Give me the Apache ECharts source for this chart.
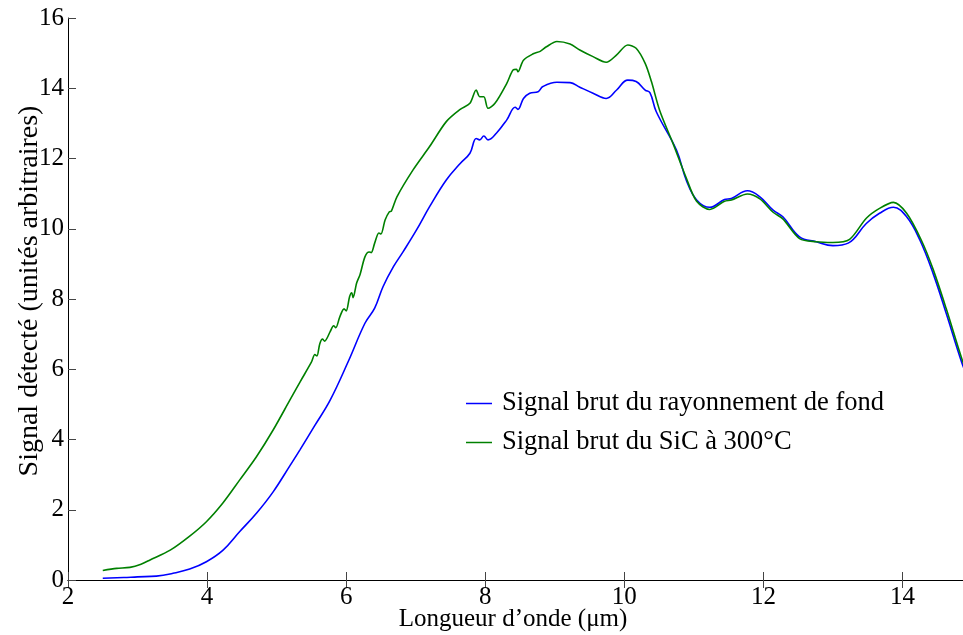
<!DOCTYPE html>
<html>
<head>
<meta charset="utf-8">
<script src="https://cdn.jsdelivr.net/npm/echarts@6/dist/echarts.min.js"></script>
<style>
  html, body { margin: 0; padding: 0; background: #fff; }
  #chart { width: 963px; height: 635px; }
</style>
</head>
<body>
<div id="chart"></div>
<script>
// Wavelength (µm) and raw detector signal (arbitrary units)
const wlBackground = [2.50, 2.80, 3.00, 3.27, 3.51, 3.75, 3.99, 4.23, 4.47, 4.71, 4.95, 5.19, 5.34, 5.55, 5.77, 6.03, 6.27, 6.41, 6.53, 6.68, 6.82, 7.01, 7.20, 7.44, 7.64, 7.78, 7.87, 7.92, 7.98, 8.04, 8.16, 8.31, 8.43, 8.47, 8.55, 8.64, 8.76, 8.83, 9.03, 9.22, 9.36, 9.55, 9.74, 9.89, 10.05, 10.17, 10.30, 10.37, 10.46, 10.75, 10.89, 11.04, 11.23, 11.44, 11.54, 11.77, 11.95, 12.14, 12.28, 12.52, 12.76, 13.00, 13.22, 13.48, 13.67, 13.87, 14.06, 14.25, 14.44, 14.63, 14.85, 14.95];
const sigBackground = [0.05, 0.07, 0.09, 0.11, 0.19, 0.31, 0.52, 0.85, 1.38, 1.90, 2.51, 3.25, 3.72, 4.40, 5.12, 6.22, 7.31, 7.74, 8.35, 8.92, 9.35, 9.96, 10.63, 11.39, 11.86, 12.15, 12.57, 12.53, 12.64, 12.53, 12.72, 13.10, 13.46, 13.40, 13.71, 13.86, 13.90, 14.05, 14.17, 14.16, 14.03, 13.86, 13.71, 13.95, 14.23, 14.19, 13.95, 13.87, 13.33, 12.24, 11.39, 10.82, 10.61, 10.83, 10.86, 11.08, 10.91, 10.53, 10.34, 9.77, 9.63, 9.52, 9.59, 10.15, 10.44, 10.61, 10.34, 9.68, 8.73, 7.59, 6.21, 5.70];

const wlSiC = [2.50, 2.70, 2.89, 3.05, 3.18, 3.47, 3.75, 3.99, 4.23, 4.47, 4.71, 4.95, 5.19, 5.34, 5.50, 5.55, 5.58, 5.62, 5.66, 5.69, 5.77, 5.82, 5.85, 5.91, 5.97, 6.00, 6.05, 6.08, 6.10, 6.15, 6.20, 6.27, 6.33, 6.36, 6.41, 6.47, 6.50, 6.56, 6.62, 6.65, 6.73, 6.96, 7.20, 7.44, 7.64, 7.78, 7.87, 7.92, 7.98, 8.04, 8.14, 8.31, 8.40, 8.45, 8.47, 8.55, 8.69, 8.79, 8.88, 9.03, 9.22, 9.36, 9.55, 9.74, 9.89, 10.05, 10.17, 10.30, 10.39, 10.51, 10.70, 10.89, 11.04, 11.23, 11.44, 11.54, 11.77, 11.95, 12.14, 12.28, 12.52, 12.76, 13.00, 13.24, 13.48, 13.67, 13.87, 14.06, 14.27, 14.44, 14.63, 14.85, 14.95];
const sigSiC = [0.27, 0.33, 0.36, 0.45, 0.57, 0.85, 1.25, 1.66, 2.20, 2.85, 3.51, 4.27, 5.12, 5.65, 6.20, 6.42, 6.38, 6.72, 6.86, 6.80, 7.07, 7.24, 7.18, 7.50, 7.72, 7.66, 8.07, 8.18, 8.04, 8.45, 8.70, 9.20, 9.34, 9.32, 9.59, 9.88, 9.85, 10.25, 10.48, 10.50, 10.91, 11.67, 12.34, 13.05, 13.40, 13.57, 13.95, 13.76, 13.76, 13.43, 13.57, 14.14, 14.52, 14.54, 14.47, 14.80, 14.98, 15.05, 15.18, 15.33, 15.26, 15.09, 14.90, 14.74, 14.95, 15.23, 15.14, 14.71, 14.19, 13.36, 12.43, 11.45, 10.78, 10.55, 10.78, 10.82, 10.99, 10.85, 10.47, 10.28, 9.72, 9.63, 9.61, 9.70, 10.30, 10.58, 10.75, 10.44, 9.68, 8.85, 7.72, 6.32, 5.80];

const xTicks = [2, 4, 6, 8, 10, 12, 14];
const yTicks = [0, 2, 4, 6, 8, 10, 12, 14, 16];

const nameBackground = 'Signal brut du rayonnement de fond';
const nameSiC = 'Signal brut du SiC à 300°C';

const pairs = (xs, ys) => xs.map((x, i) => [x, ys[i]]);

const serif = "'Liberation Serif', 'Times New Roman', serif";
const tickColor = '#444';

const chart = echarts.init(document.getElementById('chart'));
chart.setOption({
  animation: false,
  backgroundColor: '#fff',
  grid: { left: 68, top: 18, width: 904, height: 562, outerBoundsMode: 'none', containLabel: false },
  legend: {
    orient: 'vertical',
    left: 466,
    top: 390,
    padding: 0,
    itemWidth: 26,
    itemHeight: 1.5,
    itemGap: 12,
    icon: 'rect',
    data: [nameBackground, nameSiC],
    textStyle: { fontFamily: serif, fontSize: 26.5, color: '#000', padding: [0, 0, 0, 5] }
  },
  xAxis: [{
    type: 'value',
    min: 2, max: 15, interval: 2,
    name: 'Longueur d’onde (μm)',
    nameLocation: 'middle',
    nameGap: 27,
    nameMoveOverlap: false,
    nameTextStyle: { fontFamily: serif, fontSize: 25, color: '#000', padding: [0, 14, 0, 0] },
    axisLine: { show: true, lineStyle: { color: '#000', width: 1 } },
    axisTick: { show: true, inside: true, length: 8, lineStyle: { color: tickColor } },
    axisLabel: {
      fontFamily: serif, fontSize: 25, color: '#000', margin: 5,
      formatter: v => (xTicks.includes(v) ? String(v) : '')
    },
    splitLine: { show: false }
  }, {
    type: 'value',
    position: 'top',
    min: 2, max: 15, interval: 2,
    axisLine: { show: true, lineStyle: { color: '#000', width: 1 } },
    axisTick: { show: true, inside: true, length: 8, lineStyle: { color: tickColor } },
    axisLabel: { show: false },
    splitLine: { show: false }
  }],
  yAxis: [{
    type: 'value',
    min: 0, max: 16, interval: 2,
    name: 'Signal détecté (unités arbitraires)',
    nameLocation: 'middle',
    nameGap: 24,
    nameMoveOverlap: false,
    nameTextStyle: { fontFamily: serif, fontSize: 28, color: '#000', padding: [0, 0, 0, 16] },
    axisLine: { show: true, lineStyle: { color: '#000', width: 1 } },
    axisTick: { show: true, inside: true, length: 8, lineStyle: { color: tickColor } },
    axisLabel: {
      fontFamily: serif, fontSize: 25, color: '#000', margin: 4,
      formatter: v => (yTicks.includes(v) ? String(v) : '')
    },
    splitLine: { show: false }
  }, {
    type: 'value',
    position: 'right',
    min: 0, max: 16, interval: 2,
    axisLine: { show: true, lineStyle: { color: '#000', width: 1 } },
    axisTick: { show: true, inside: true, length: 8, lineStyle: { color: tickColor } },
    axisLabel: { show: false },
    splitLine: { show: false }
  }],
  series: [{
    name: nameBackground,
    type: 'line',
    data: pairs(wlBackground, sigBackground),
    showSymbol: false,
    smooth: 0.4,
    color: '#0000ff',
    lineStyle: { color: '#0000ff', width: 1.6 },
    z: 2
  }, {
    name: nameSiC,
    type: 'line',
    data: pairs(wlSiC, sigSiC),
    showSymbol: false,
    smooth: 0.3,
    color: '#008000',
    lineStyle: { color: '#008000', width: 1.6 },
    z: 3
  }]
});
</script>
</body>
</html>
